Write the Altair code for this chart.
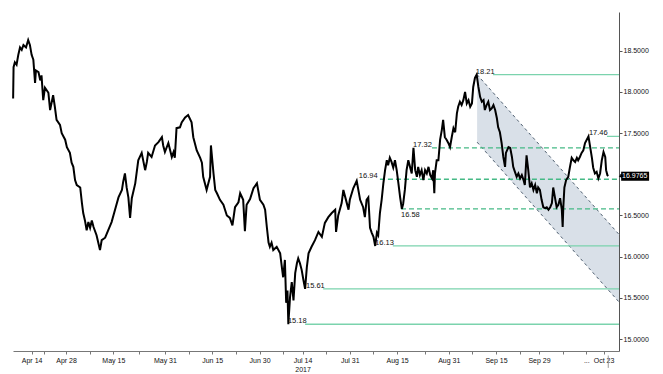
import altair as alt
import pandas as pd

FONT = "Liberation Sans, Arial, sans-serif"

# trading-day index (0 = Apr 14, 2017) and price
day = [-2.3, -2.2, -1.9, -1.5, -1.1, -0.7, -0.3, 0.1, 0.7, 1.2, 1.6, 2.0, 2.4, 2.8, 3.0, 3.6, 4.0, 4.3, 4.7, 5.1,
       5.9, 6.3, 7.0, 7.4, 7.8, 8.6, 9.0, 9.8, 10.2, 10.9, 11.3, 11.7, 12.1, 12.5, 13.3, 13.7, 14.0, 14.4, 14.8, 15.2,
       15.6, 16.0, 16.4, 17.1, 17.9, 18.3, 19.1, 19.8, 20.6, 21.4, 22.2, 23.0, 23.3, 23.7, 24.1, 24.5, 24.9, 25.3, 26.1, 26.8,
       27.6, 28.4, 28.8, 29.1, 29.9, 30.7, 31.5, 32.3, 32.6, 33.0, 33.8, 34.6, 35.0, 35.3, 35.7, 36.5, 36.9, 37.7, 38.4, 39.2,
       39.6, 40.4, 41.2, 41.6, 41.9, 42.7, 43.1, 43.5, 43.7, 44.3, 44.7, 45.1, 45.8, 46.6, 47.4, 48.1, 48.7, 49.3, 50.1, 50.5,
       51.2, 51.6, 52.0, 52.8, 53.6, 54.4, 55.1, 55.9, 56.3, 56.7, 57.1, 57.4, 57.8, 58.2, 59.0, 59.8, 60.2, 60.5, 60.9, 61.2,
       61.5, 61.7, 62.1, 62.5, 62.9, 63.3, 63.7, 64.0, 64.4, 64.8, 65.2, 65.6, 66.0, 66.4, 67.1, 67.9, 68.7, 69.5, 70.2, 71.0,
       71.8, 72.6, 72.8, 73.3, 74.1, 74.5, 75.3, 75.7, 76.0, 76.8, 77.6, 78.4, 79.1, 79.5, 79.9, 80.3, 80.7, 81.1, 81.5, 81.9,
       82.3, 82.6, 83.0, 83.4, 83.8, 84.2, 84.6, 84.9, 85.3, 85.7, 86.1, 86.5, 86.9, 87.3, 87.7, 88.1, 88.4, 88.8, 89.2, 89.6,
       90.0, 90.4, 90.8, 91.2, 91.6, 91.9, 92.3, 92.7, 93.1, 93.5, 93.9, 94.3, 94.7, 95.1, 95.4, 95.65, 95.8, 96.2, 96.6, 97.0,
       97.4, 97.7, 98.1, 98.5, 98.9, 99.3, 99.7, 100.1, 100.5, 100.9, 101.2, 101.6, 102.0, 102.4, 102.8, 103.2, 103.6, 104.0, 104.4, 104.7,
       105.1, 105.5, 105.9, 106.3, 106.7, 107.1, 107.4, 107.8, 108.2, 108.6, 109.0, 109.4, 109.8, 110.2, 110.5, 110.9, 111.3, 111.7, 112.1, 112.3,
       112.9, 113.3, 113.7, 114.0, 114.4, 114.8, 115.2, 115.6, 116.0, 116.4, 116.7, 117.1, 117.5, 117.9, 118.3, 118.7, 119.1, 119.5, 119.8, 120.2,
       120.6, 121.0, 121.4, 121.8, 122.2, 122.6, 123.0, 123.3, 123.7, 124.1, 124.5, 124.9, 125.3, 125.5, 125.65, 125.9, 126.3, 126.8, 127.2, 127.6,
       128.0, 128.4, 128.8, 129.1, 129.5, 129.9, 130.3, 130.7, 131.1, 131.5, 131.9, 132.3, 132.6, 133.0, 133.4, 133.8, 134.2, 134.6, 135.0, 135.4,
       135.6, 135.9, 136.1]
price = [17.92, 18.30, 18.36, 18.33, 18.45, 18.54, 18.51, 18.57, 18.54, 18.63, 18.57, 18.45, 18.39, 18.11, 18.26, 18.24, 18.14, 18.20, 17.90, 18.05,
         17.99, 17.78, 17.96, 17.82, 17.66, 17.60, 17.50, 17.42, 17.33, 17.26, 17.14, 17.09, 16.93, 16.87, 16.84, 16.65, 16.53, 16.44, 16.32, 16.42,
         16.35, 16.44, 16.36, 16.26, 16.08, 16.20, 16.23, 16.32, 16.42, 16.57, 16.72, 16.81, 16.91, 17.01, 16.84, 16.72, 16.47, 16.71, 16.89, 17.17,
         17.26, 17.05, 17.15, 17.26, 17.21, 17.35, 17.39, 17.45, 17.35, 17.27, 17.38, 17.21, 17.27, 17.20, 17.56, 17.57, 17.63, 17.69, 17.72, 17.63,
         17.45, 17.29, 17.20, 17.14, 16.97, 16.81, 16.89, 16.97, 17.35, 17.01, 16.81, 16.77, 16.69, 16.63, 16.50, 16.47, 16.38, 16.60, 16.66, 16.77,
         16.69, 16.31, 16.63, 16.70, 16.83, 16.89, 16.69, 16.63, 16.57, 16.36, 16.17, 16.12, 16.17, 16.08, 16.12, 16.04, 15.87, 15.75, 15.96, 15.44,
         15.59, 15.18, 15.51, 15.69, 15.47, 15.80, 15.92, 15.98, 15.92, 15.84, 15.72, 15.61, 15.87, 16.04, 16.12, 16.20, 16.30, 16.24, 16.41, 16.48,
         16.53, 16.57, 16.30, 16.50, 16.65, 16.81, 16.65, 16.57, 16.69, 16.83, 16.92, 16.69, 16.60, 16.48, 16.69, 16.72, 16.35, 16.29, 16.24, 16.13,
         16.29, 16.26, 16.53, 16.69, 16.89, 17.05, 17.17, 17.11, 17.20, 17.15, 17.08, 17.17, 17.05, 16.89, 16.72, 16.58, 16.64, 16.81, 17.05, 17.17,
         17.09, 17.01, 17.32, 17.05, 16.97, 17.09, 16.99, 17.05, 16.93, 17.05, 17.01, 17.09, 16.99, 16.95, 17.05, 16.77, 17.01, 17.17, 17.17, 17.42,
         17.54, 17.66, 17.45, 17.42, 17.38, 17.33, 17.45, 17.56, 17.51, 17.74, 17.82, 17.88, 17.84, 17.90, 18.00, 17.86, 17.90, 17.82, 17.86, 18.06,
         18.17, 18.21, 18.06, 17.94, 17.88, 17.90, 17.78, 17.84, 17.88, 17.78, 17.80, 17.84, 17.78, 17.68, 17.57, 17.51, 17.38, 17.21, 17.09, 17.26,
         17.33, 17.32, 17.21, 17.09, 17.03, 16.97, 17.01, 16.95, 16.99, 16.93, 16.87, 17.23, 17.05, 16.84, 16.89, 16.81, 16.87, 16.77, 16.84, 16.81,
         16.69, 16.60, 16.59, 16.60, 16.57, 16.60, 16.65, 16.84, 16.72, 16.60, 16.63, 16.71, 16.57, 16.36, 16.60, 16.84, 16.93, 16.97, 17.09, 17.20,
         17.17, 17.15, 17.20, 17.17, 17.21, 17.26, 17.29, 17.38, 17.42, 17.46, 17.33, 17.20, 17.08, 17.01, 17.03, 16.95, 17.01, 17.17, 17.27, 17.21,
         17.05, 16.99, 16.98]
n = min(len(day), len(price))
day, price = day[:n], price[:n]

last_price = 16.9765
last_text = "16.9765"

# support / resistance levels
level_value = [18.21, 17.46, 17.32, 16.94, 16.58, 16.13, 15.61, 15.18]
level_text = ["18.21", "17.46", "17.32", "16.94", "16.58", "16.13", "15.61", "15.18"]
level_start = [109.3, 135.8, 95.1, 83.0, 87.9, 86.0, 69.8, 65.6]
level_label_day = [105.3, 131.6, 90.7, 78.1, 87.9, 81.9, 65.8, 61.6]
level_style = ["solid", "solid", "dashed", "dashed", "dashed", "solid", "solid", "solid"]
level_label_pos = ["above", "above", "above", "above", "below", "above", "above", "above"]

# descending channel
chan_day = [105.6, 138.6]
chan_top = [18.21, 16.27]
chan_bottom = [17.39, 15.45]

# axes
xlabel_day = [2, 10, 21, 33, 44, 55, 65, 76, 87, 99, 110, 120, 131, 135]
xlabel_text = ["Apr 14", "Apr 28", "May 15", "May 31", "Jun 15", "Jun 30", "Jul 14", "Jul 31",
               "Aug 15", "Aug 31", "Sep 15", "Sep 29", "...", "Oct 23"]
year_under = "Jul 14"
year_text = "2017"
xminor_day = [4.9, 15.5, 27.0, 38.5, 49.5, 60.5, 70.5, 81.5, 93.5, 104.5, 115.5, 125.5]
cursor_day = 136.1
ytick_vals = [15.0, 15.5, 16.0, 16.5, 17.0, 17.5, 18.0, 18.5]

x_lo, x_hi = -2.33, 138.6
y_lo, y_hi = 14.855, 18.97

xs = alt.Scale(domain=[x_lo, x_hi], nice=False, zero=False)
ys = alt.Scale(domain=[y_lo, y_hi], nice=False, zero=False)

parts = []
for d, s in zip(xlabel_day, xlabel_text):
    if s == year_under:
        parts.append(f"datum.value === {d} ? ['{s}', '{year_text}']")
    else:
        parts.append(f"datum.value === {d} ? '{s}'")
x_label_expr = " : ".join(parts) + " : ''"

x_axis = alt.Axis(values=sorted(xlabel_day + xminor_day), labelExpr=x_label_expr, tickSize=3,
                  tickColor="#777777", domainColor="#777777", labelFont=FONT, labelFontSize=7,
                  labelColor="#111111", labelPadding=2, labelOverlap=False, labelFlush=False,
                  labelBound=False, grid=False, title=None, labelLineHeight=9)
y_axis = alt.Axis(orient="right", values=ytick_vals,
                  labelExpr="datum.value == 17 ? '' : format(datum.value, '.4f')",
                  tickSize=3, tickColor="#555555", domainColor="#555555", labelFont=FONT,
                  labelFontSize=7, labelColor="#111111", labelPadding=1, grid=False, title=None,
                  labelOverlap=False, labelFlush=False)


def X(field):
    return alt.X(field, scale=xs, axis=x_axis, title=None)


def Y(field):
    return alt.Y(field, scale=ys, axis=y_axis, title=None)


df_price = pd.DataFrame({"day": day, "price": price})
df_ch = pd.DataFrame({"day": chan_day, "top": chan_top, "bottom": chan_bottom})
df_lv = pd.DataFrame({"value": level_value, "text": level_text, "start": level_start,
                      "end": [x_hi] * len(level_value), "lday": level_label_day,
                      "style": level_style, "pos": level_label_pos})

chan_area = alt.Chart(df_ch).mark_area(color="#d5dde6", opacity=0.9).encode(
    x=X("day:Q"), y=Y("top:Q"), y2="bottom:Q")
chan_top_line = alt.Chart(df_ch).mark_line(color="#4f5f70", strokeWidth=1, strokeDash=[3, 3]).encode(
    x=X("day:Q"), y=Y("top:Q"))
chan_bot_line = alt.Chart(df_ch).mark_line(color="#4f5f70", strokeWidth=1, strokeDash=[3, 3]).encode(
    x=X("day:Q"), y=Y("bottom:Q"))

level_rules = alt.Chart(df_lv).mark_rule(strokeWidth=1.3).encode(
    x=X("start:Q"), x2="end:Q", y=Y("value:Q"),
    color=alt.Color("style:N", scale=alt.Scale(domain=["solid", "dashed"], range=["#7bd3ad", "#45b985"]), legend=None),
    strokeDash=alt.StrokeDash("style:N", scale=alt.Scale(domain=["solid", "dashed"], range=[[1, 0], [5, 3]]), legend=None))

line = alt.Chart(df_price).mark_line(color="black", strokeWidth=2).encode(
    x=X("day:Q"), y=Y("price:Q"))

lab_above = alt.Chart(df_lv).transform_filter("datum.pos == 'above'").mark_text(
    align="left", baseline="alphabetic", dy=-1, font=FONT, fontSize=7.5, color="#111111").encode(
    x=X("lday:Q"), y=Y("value:Q"), text="text:N")
lab_below = alt.Chart(df_lv).transform_filter("datum.pos == 'below'").mark_text(
    align="left", baseline="top", dy=2, font=FONT, fontSize=7.5, color="#111111").encode(
    x=X("lday:Q"), y=Y("value:Q"), text="text:N")

df_tag = pd.DataFrame({"x": [x_hi + 0.5], "x2": [x_hi + 7.0], "xt": [x_hi + 0.7], "xa": [x_hi + 0.35],
                       "y": [last_price + 0.055], "y2": [last_price - 0.055], "v": [last_price], "t": [last_text]})
tag_rect = alt.Chart(df_tag).mark_rect(color="black").encode(
    x=X("x:Q"), x2="x2:Q", y=Y("y:Q"), y2="y2:Q")
tag_arrow = alt.Chart(df_tag).mark_point(shape="triangle-left", filled=True, color="black", size=18, opacity=1).encode(
    x=X("xa:Q"), y=Y("v:Q"))
tag_text = alt.Chart(df_tag).mark_text(align="left", baseline="middle", font=FONT, fontSize=7, color="white").encode(
    x=X("xt:Q"), y=Y("v:Q"), text="t:N")

df_cur = pd.DataFrame({"x": [cursor_day], "y": [14.80], "y2": [14.65]})
cursor = alt.Chart(df_cur).mark_rule(color="#999999", strokeWidth=1).encode(
    x=X("x:Q"), y=Y("y:Q"), y2="y2:Q")

chart = alt.layer(chan_area, chan_top_line, chan_bot_line, level_rules, line,
                  lab_above, lab_below, tag_rect, tag_arrow, tag_text, cursor).properties(
    width=606, height=339,
    autosize=alt.AutoSizeParams(type="none"),
    padding={"left": 13, "top": 12, "right": 44, "bottom": 23},
    background="white",
).configure_view(stroke=None)

chart.save("out.html", embed_options={"renderer": "svg", "actions": False})
